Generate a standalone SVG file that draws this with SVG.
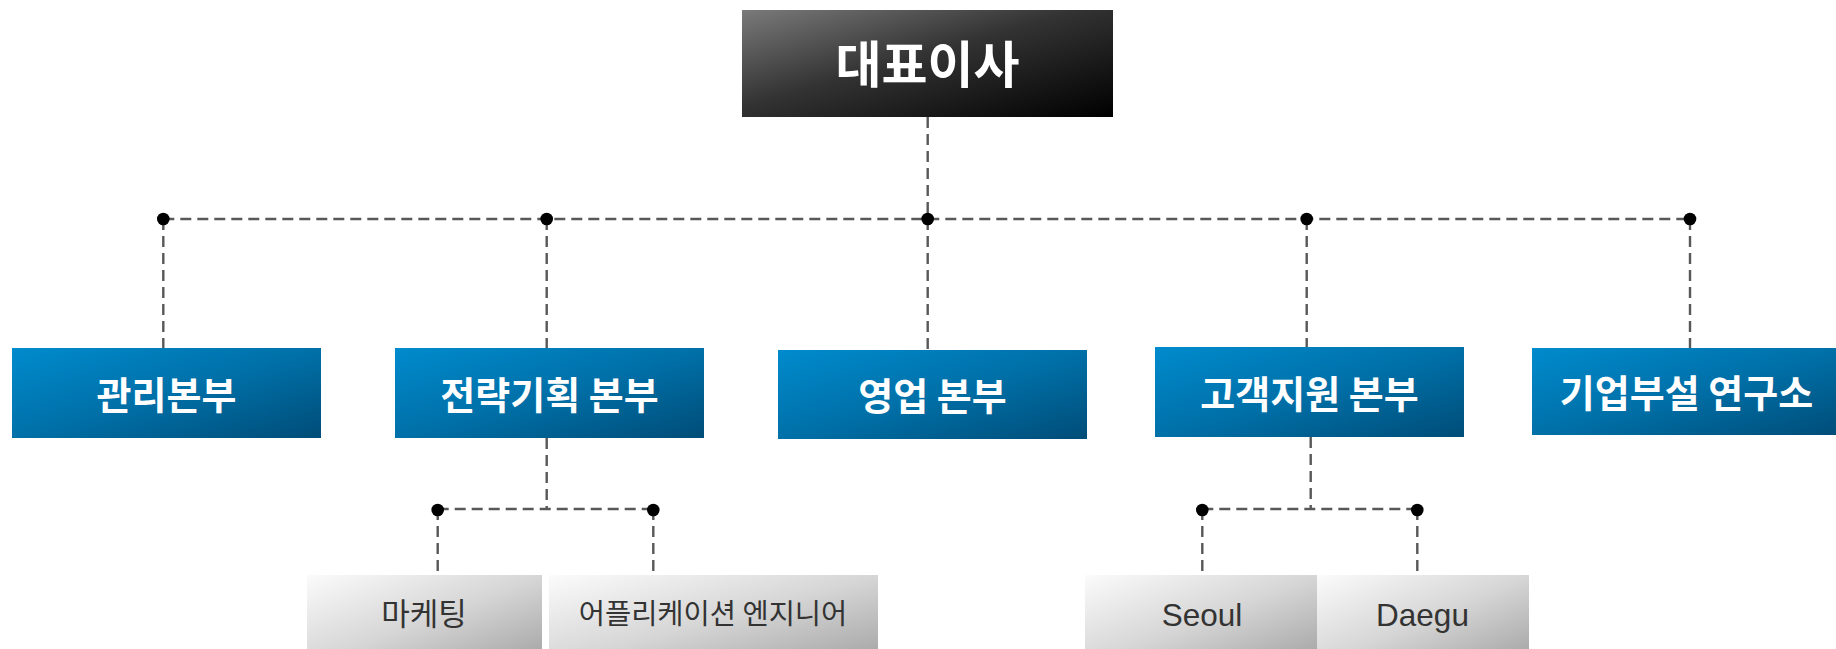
<svg xmlns="http://www.w3.org/2000/svg" width="1836" height="649" viewBox="0 0 1836 649">
<defs>
<linearGradient id="gBlack" x1="0" y1="0" x2="1" y2="1">
<stop offset="0" stop-color="#7a7a7a"/>
<stop offset="0.45" stop-color="#333333"/>
<stop offset="1" stop-color="#000000"/>
</linearGradient>
<linearGradient id="gBlue" x1="0" y1="0" x2="1" y2="1">
<stop offset="0" stop-color="#008bcd"/>
<stop offset="0.5" stop-color="#0070a8"/>
<stop offset="1" stop-color="#004d78"/>
</linearGradient>
<linearGradient id="gGray" x1="0" y1="0" x2="1" y2="1">
<stop offset="0" stop-color="#fbfbfb"/>
<stop offset="0.5" stop-color="#d6d6d6"/>
<stop offset="1" stop-color="#a2a2a2"/>
</linearGradient>
<style>
.ln{fill:none;stroke:#585858;stroke-width:2.4;stroke-dasharray:11 6;}
.dot{fill:#000000;}
.top{fill:url(#gBlack);}
.dept{fill:url(#gBlue);}
.leaf{fill:url(#gGray);}
.tTop{font-family:"Noto Sans CJK KR","Noto Sans",sans-serif;font-weight:bold;font-size:50px;fill:#ffffff;text-anchor:middle;}
.tDept{font-family:"Noto Sans CJK KR","Noto Sans",sans-serif;font-weight:bold;font-size:38px;fill:#ffffff;text-anchor:middle;}
.tLeaf{font-family:"Noto Sans CJK KR","Noto Sans",sans-serif;font-size:28.5px;fill:#333333;text-anchor:middle;}
.tLeafEn{font-family:"Liberation Sans",Arial,sans-serif;font-size:31.5px;fill:#333333;text-anchor:middle;}
</style>
</defs>
<rect width="1836" height="649" fill="#ffffff"/>
<g id="connectors">
<path class="ln" d="M927.7 117 V219"/>
<path class="ln" d="M163.3 219 H1690"/>
<path class="ln" d="M163.3 219 V348"/>
<path class="ln" d="M546.7 219 V348"/>
<path class="ln" d="M927.7 219 V350"/>
<path class="ln" d="M1306.7 219 V347"/>
<path class="ln" d="M1690 219 V348"/>
<path class="ln" d="M546.7 438 V509 M437.7 509 H653.3"/>
<path class="ln" d="M437.7 509 V575"/>
<path class="ln" d="M653.3 509 V575"/>
<path class="ln" d="M1310.7 437 V509 M1202.3 509 H1417.3"/>
<path class="ln" d="M1202.3 509 V575"/>
<path class="ln" d="M1417.3 509 V575"/>
<circle class="dot" cx="163.3" cy="219" r="6.3"/>
<circle class="dot" cx="546.7" cy="219" r="6.3"/>
<circle class="dot" cx="927.7" cy="219" r="6.3"/>
<circle class="dot" cx="1306.7" cy="219" r="6.3"/>
<circle class="dot" cx="1690" cy="219" r="6.3"/>
<circle class="dot" cx="437.7" cy="510" r="6.3"/>
<circle class="dot" cx="653.3" cy="510" r="6.3"/>
<circle class="dot" cx="1202.3" cy="510" r="6.3"/>
<circle class="dot" cx="1417.3" cy="510" r="6.3"/>
</g>
<g id="ceo">
<rect class="top" x="742" y="10" width="371" height="107"/>
<text class="tTop" x="927.5" y="83">대표이사</text>
</g>
<g id="dept-admin">
<rect class="dept" x="12" y="348" width="309" height="90"/>
<text class="tDept" x="166.5" y="408.5">관리본부</text>
</g>
<g id="dept-strategy">
<rect class="dept" x="395" y="348" width="309" height="90"/>
<text class="tDept" x="549.5" y="408.5">전략기획 본부</text>
</g>
<g id="dept-sales">
<rect class="dept" x="778" y="350" width="309" height="89"/>
<text class="tDept" x="932.5" y="410">영업 본부</text>
</g>
<g id="dept-support">
<rect class="dept" x="1155" y="347" width="309" height="90"/>
<text class="tDept" x="1309.5" y="407.5">고객지원 본부</text>
</g>
<g id="dept-lab">
<rect class="dept" x="1532" y="348" width="309" height="87"/>
<text class="tDept" x="1686.5" y="407">기업부설 연구소</text>
</g>
<g id="leaf-marketing">
<rect class="leaf" x="307" y="575" width="235" height="90"/>
<text class="tLeaf" x="424" y="625" style="font-size:31px">마케팅</text>
</g>
<g id="leaf-app">
<rect class="leaf" x="549" y="575" width="329" height="90"/>
<text class="tLeaf" x="713" y="624">어플리케이션 엔지니어</text>
</g>
<g id="leaf-seoul">
<rect class="leaf" x="1085" y="575" width="232" height="90"/>
<text class="tLeafEn" x="1202" y="626">Seoul</text>
</g>
<g id="leaf-daegu">
<rect class="leaf" x="1317" y="575" width="212" height="90"/>
<text class="tLeafEn" x="1422.5" y="626">Daegu</text>
</g>
</svg>
